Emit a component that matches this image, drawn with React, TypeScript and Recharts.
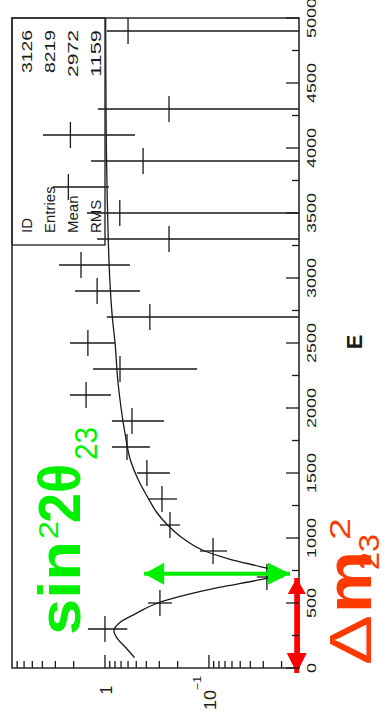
import React from 'react';
import {
  ComposedChart,
  XAxis,
  YAxis,
  Line,
  Scatter,
  ErrorBar,
  ReferenceArea,
  ReferenceLine,
  ReferenceDot,
} from 'recharts';

// ---------- data ----------
const Y_MIN = 0.0136;
const Y_MAX = 7.84;
const E_MIN = 0;
const E_MAX = 5000;

// histogram bins (centre, content, upper and lower end of the error bar; 0 = below the axis)
const binCenters = [300, 500, 700, 900, 1100, 1300, 1500, 1700, 1900, 2100, 2300, 2500, 2700, 2900, 3100, 3300, 3500, 3700, 3900, 4100, 4300, 4900];
const binContents = [1.0, 0.296, 0.0277, 0.0913, 0.237, 0.283, 0.395, 0.614, 0.55, 1.52, 0.717, 1.46, 0.37, 1.19, 1.7, 0.242, 0.72, 2.25, 0.43, 2.15, 0.242, 0.6];
const binUpper = [1.46, 0.386, 0.0346, 0.122, 0.296, 0.386, 0.49, 0.857, 0.857, 2.17, 1.3, 2.17, 0.96, 1.94, 2.77, 1.19, 1.49, 3.16, 1.36, 3.95, 1.17, 0.96];
const binLower = [0.61, 0.227, 0.0194, 0.067, 0.19, 0.203, 0.237, 0.37, 0.27, 0.875, 0.13, 0.8, 0, 0.46, 0.575, 0, 0, 0.92, 0, 0.515, 0, 0];
const BIN_HALF_WIDTH = 100;

// fit curve
const curveE = [80, 150, 220, 285, 350, 420, 500, 560, 620, 680, 730, 780, 840, 900, 1000, 1100, 1200, 1300, 1450, 1600, 1800, 2000, 2200, 2500, 2700, 3000, 3300, 3600, 4000, 4500, 5000];
const curveP = [0.52, 0.62, 0.75, 0.82, 0.72, 0.5, 0.31, 0.17, 0.08, 0.032, 0.018, 0.032, 0.065, 0.11, 0.18, 0.25, 0.32, 0.38, 0.48, 0.57, 0.64, 0.7, 0.75, 0.8, 0.85, 0.9, 0.93, 0.95, 0.97, 0.98, 0.985];

// axes
const eTicks = [0, 250, 500, 750, 1000, 1250, 1500, 1750, 2000, 2250, 2500, 2750, 3000, 3250, 3500, 3750, 4000, 4250, 4500, 4750, 5000];
const eLabelled = [0, 500, 1000, 1500, 2000, 2500, 3000, 3500, 4000, 4500, 5000];
const pTicks = [0.02, 0.03, 0.04, 0.05, 0.06, 0.07, 0.08, 0.09, 0.1, 0.2, 0.3, 0.4, 0.5, 0.6, 0.7, 0.8, 0.9, 1, 2, 3, 4, 5, 6, 7];
const pMajor = [0.1, 1];

// stats box
const statNames = ['ID', 'Entries', 'Mean', 'RMS'];
const statValues = ['3126', '8219', '2972', '1159'];

// annotations (arrow ends, data coordinates)
const greenArrowE = 725;
const greenArrowP = [0.42, 0.0166];
const redArrowP = 0.0143;
const redArrowE = [-38, 692];

// ---------- derived tables ----------
const points = binCenters.map((E, i) => {
  const P = binContents[i];
  const lo = Math.max(binLower[i], Y_MIN);
  return { E, P, errE: BIN_HALF_WIDTH, errP: [P - lo, binUpper[i] - P] };
});
const curve = curveE.map((E, i) => ({ E, P: curveP[i] }));

const FONT = "'Liberation Sans', Arial, Helvetica, sans-serif";
const INK = '#1a1a1a';
const GREEN = '#00f000';
const RED = '#ff0000';
const RED_TEXT = '#ff3a00';

function ETick(props: any) {
  const { x, y, payload } = props;
  const v = payload.value;
  const major = eLabelled.includes(v);
  const len = major ? 13 : 7;
  const s = String(v);
  return (
    <g>
      <line x1={x} y1={y} x2={x} y2={y - len} stroke={INK} strokeWidth={1.3} />
      {major && (
        <text
          x={x}
          y={y + 17}
          textAnchor="middle"
          fontFamily={FONT}
          fontSize={13}
          fill={INK}
          textLength={s.length * 10}
          lengthAdjust="spacingAndGlyphs"
        >
          {s}
        </text>
      )}
    </g>
  );
}

function PTick(props: any) {
  const { x, y, payload } = props;
  const v = payload.value;
  const major = pMajor.includes(v);
  const len = major ? 13 : 7;
  return (
    <g>
      <line x1={x} y1={y} x2={x + len} y2={y} stroke={INK} strokeWidth={1.3} />
      {v === 1 && (
        <text x={x - 22} y={y + 7} textAnchor="middle" fontFamily={FONT} fontSize={16} fill={INK}>
          1
        </text>
      )}
      {v === 0.1 && (
        <g>
          <text x={x - 42} y={y + 7} fontFamily={FONT} fontSize={16} fill={INK} textLength={20} lengthAdjust="spacingAndGlyphs">
            10
          </text>
          <text x={x - 22} y={y - 8} fontFamily={FONT} fontSize={11} fill={INK} textLength={14} lengthAdjust="spacingAndGlyphs">
            −1
          </text>
        </g>
      )}
    </g>
  );
}

const noMarker = () => <g />;

function upHead(color: string, len: number, half: number) {
  return (p: any) => (
    <polygon points={`${p.cx},${p.cy} ${p.cx - half},${p.cy + len} ${p.cx + half},${p.cy + len}`} fill={color} />
  );
}
function downHead(color: string, len: number, half: number) {
  return (p: any) => (
    <polygon points={`${p.cx},${p.cy} ${p.cx - half},${p.cy - len} ${p.cx + half},${p.cy - len}`} fill={color} />
  );
}
function leftHead(color: string, len: number, half: number) {
  return (p: any) => (
    <polygon points={`${p.cx},${p.cy} ${p.cx + len},${p.cy - half} ${p.cx + len},${p.cy + half}`} fill={color} />
  );
}
function rightHead(color: string, len: number, half: number) {
  return (p: any) => (
    <polygon points={`${p.cx},${p.cy} ${p.cx - len},${p.cy - half} ${p.cx - len},${p.cy + half}`} fill={color} />
  );
}

const W = 727;
const H = 385;

export default function App() {
  return (
    <div style={{ position: 'absolute', left: 0, top: 0, width: 385, height: 727, overflow: 'hidden', background: '#fff' }}>
      <div
        style={{
          position: 'absolute',
          left: 0,
          top: 0,
          width: W,
          height: H,
          transformOrigin: '0 0',
          transform: 'translateY(727px) rotate(-90deg)',
        }}
      >
        <ComposedChart width={W} height={H} margin={{ top: 12, right: 18, bottom: 56, left: 19 }}>
          <XAxis
            dataKey="E"
            type="number"
            domain={[E_MIN, E_MAX]}
            allowDataOverflow
            ticks={eTicks}
            interval={0}
            tick={(p: any) => <ETick {...p} />}
            tickLine={false}
            axisLine={false}
            tickSize={0}
            tickMargin={0}
            height={30}
          />
          <YAxis
            type="number"
            scale="log"
            domain={[Y_MIN, Y_MAX]}
            allowDataOverflow
            ticks={pTicks}
            interval={0}
            tick={(p: any) => <PTick {...p} />}
            tickLine={false}
            axisLine={false}
            tickSize={0}
            tickMargin={0}
            width={40}
          />
          <ReferenceArea x1={E_MIN} x2={E_MAX} y1={Y_MIN} y2={Y_MAX} fill="none" fillOpacity={0} stroke="#2a2a2a" strokeWidth={1.6} />
          <Line
            data={curve}
            dataKey="P"
            type="monotone"
            dot={false}
            stroke={INK}
            strokeWidth={1.3}
            isAnimationActive={false}
          />
          <Scatter data={points} dataKey="P" shape={noMarker} isAnimationActive={false}>
            <ErrorBar dataKey="errP" direction="y" width={0} stroke={INK} strokeWidth={1.3} />
            <ErrorBar dataKey="errE" direction="x" width={0} stroke={INK} strokeWidth={1.3} />
          </Scatter>
          <ReferenceLine
            segment={[
              { x: greenArrowE, y: greenArrowP[0] },
              { x: greenArrowE, y: greenArrowP[1] },
            ]}
            stroke={GREEN}
            strokeWidth={4}
            ifOverflow="visible"
          />
          <ReferenceDot x={greenArrowE} y={greenArrowP[0]} r={0} ifOverflow="visible" shape={upHead(GREEN, 20, 11)} />
          <ReferenceDot x={greenArrowE} y={greenArrowP[1]} r={0} ifOverflow="visible" shape={downHead(GREEN, 22, 11)} />
          <ReferenceLine
            segment={[
              { x: redArrowE[0], y: redArrowP },
              { x: redArrowE[1], y: redArrowP },
            ]}
            stroke={RED}
            strokeWidth={5}
            ifOverflow="visible"
          />
          <ReferenceDot x={redArrowE[0]} y={redArrowP} r={0} ifOverflow="visible" shape={leftHead(RED, 20, 10)} />
          <ReferenceDot x={redArrowE[1]} y={redArrowP} r={0} ifOverflow="visible" shape={rightHead(RED, 16, 9)} />
        </ComposedChart>
        <svg
          width={W}
          height={H}
          style={{ position: 'absolute', left: 0, top: 0, pointerEvents: 'none', overflow: 'visible' }}
        >
          {/* stats box */}
          <rect x={482} y={12} width={227} height={93} fill="none" stroke="#2a2a2a" strokeWidth={1.4} />
          {statNames.map((n, i) => (
            <text key={n} x={494} y={32 + i * 23} fontFamily={FONT} fontSize={15} fill={INK}>
              {n}
            </text>
          ))}
          {statValues.map((v, i) => (
            <text
              key={v}
              x={697}
              y={32 + i * 23}
              textAnchor="end"
              fontFamily={FONT}
              fontSize={15}
              fill={INK}
              textLength={i < 2 ? 43 : 47}
              lengthAdjust="spacingAndGlyphs"
            >
              {v}
            </text>
          ))}
          {/* axis title */}
          <text x={385} y={362} textAnchor="middle" fontFamily={FONT} fontSize={22} fontWeight="bold" fill={INK}>
            E
          </text>
          {/* sin^2 2theta_23 */}
          <g fill={GREEN} fontFamily={FONT}>
            <text x={92} y={80} fontSize={60} fontWeight="bold" textLength={94} lengthAdjust="spacingAndGlyphs">
              sin
            </text>
            <text x={188} y={58} fontSize={28} textLength={18} lengthAdjust="spacingAndGlyphs">
              2
            </text>
            <text x={204} y={80} fontSize={60} fontWeight="bold" textLength={59} lengthAdjust="spacingAndGlyphs">
              2θ
            </text>
            <text x={267} y={97} fontSize={32} textLength={33} lengthAdjust="spacingAndGlyphs">
              23
            </text>
          </g>
          {/* Delta m^2_23 */}
          <g fill={RED_TEXT} fontFamily={FONT}>
            <text x={62} y={371} fontSize={60} textLength={50} lengthAdjust="spacingAndGlyphs">
              Δ
            </text>
            <text x={114} y={371} fontSize={64} fontWeight="bold" textLength={62} lengthAdjust="spacingAndGlyphs">
              m
            </text>
            <text x={187} y={350} fontSize={30} textLength={22} lengthAdjust="spacingAndGlyphs">
              2
            </text>
            <text x={157} y={379} fontSize={29} textLength={36} lengthAdjust="spacingAndGlyphs">
              23
            </text>
          </g>
        </svg>
      </div>
    </div>
  );
}
